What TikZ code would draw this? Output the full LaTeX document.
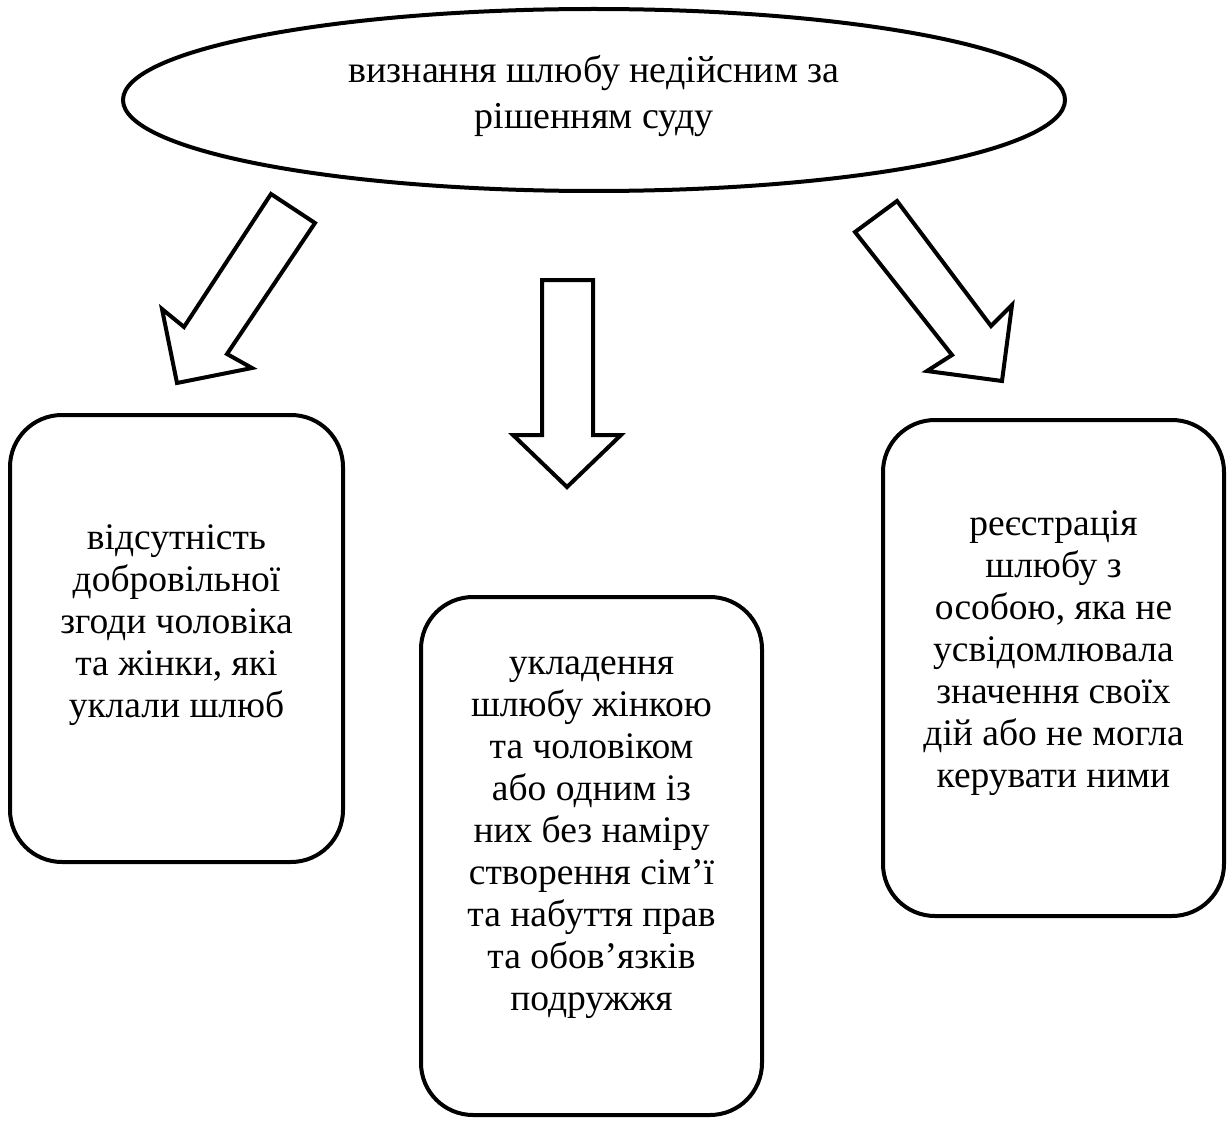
\documentclass[tikz,border=0pt]{standalone}
\usepackage{fontspec}
\setmainfont{Liberation Serif}
\usetikzlibrary{shapes.geometric}
\begin{document}
\begin{tikzpicture}[x=1pt,y=-1pt,
  outline/.style={draw=black, line width=4pt, line join=miter},
  boxshape/.style={draw=black, line width=4pt, rounded corners=52pt, rectangle, inner sep=0pt},
  ovalshape/.style={draw=black, line width=4pt, ellipse, inner sep=0pt},
  boxtext/.style={align=center, font=\fontsize{37.5}{42}\selectfont, inner sep=0pt},
  ovaltext/.style={align=center, font=\fontsize{38}{47}\selectfont, inner sep=0pt}]
\useasboundingbox[fill=white] (0,0) rectangle (1227,1121);

% top ellipse
\node[ovalshape, minimum width=942pt, minimum height=182pt] (oval) at (594,100) {};
\node[ovaltext] (ovaltxt) at ([yshift=4pt]oval.center) {визнання шлюбу недійсним за\\рішенням суду};

% boxes
\node[boxshape, minimum width=333pt, minimum height=447pt] (lbox) at (176.5,638.5) {};
\node[boxtext] (ltext) at ([yshift=13pt]lbox.center) {відсутність\\добровільної\\згоди чоловіка\\та жінки, які\\уклали шлюб};

\node[boxshape, minimum width=341pt, minimum height=518pt] (mbox) at (591.5,856) {};
\node[boxtext] (mtext) at ([yshift=18pt]mbox.center) {укладення\\шлюбу жінкою\\та чоловіком\\або одним із\\них без наміру\\створення сім’ї\\та набуття прав\\та обов’язків\\подружжя};

\node[boxshape, minimum width=341pt, minimum height=496pt] (rbox) at (1053.5,668) {};
\node[boxtext] (rtext) at ([yshift=15pt]rbox.center) {реєстрація\\шлюбу з\\особою, яка не\\усвідомлювала\\значення своїх\\дій або не могла\\керувати ними};

% block arrows
\draw[outline] (271,194) -- (315,223) -- (227,354) -- (252,368) -- (177,383) -- (162,309) -- (184,327) -- cycle;
\draw[outline] (542,280) -- (593,280) -- (593,435) -- (621,435) -- (567,487) -- (513,435) -- (542,435) -- cycle;
\draw[outline] (855,232) -- (897,201) -- (991,326) -- (1012,305) -- (1002,381) -- (927,371) -- (952,355) -- cycle;
\end{tikzpicture}
\end{document}
